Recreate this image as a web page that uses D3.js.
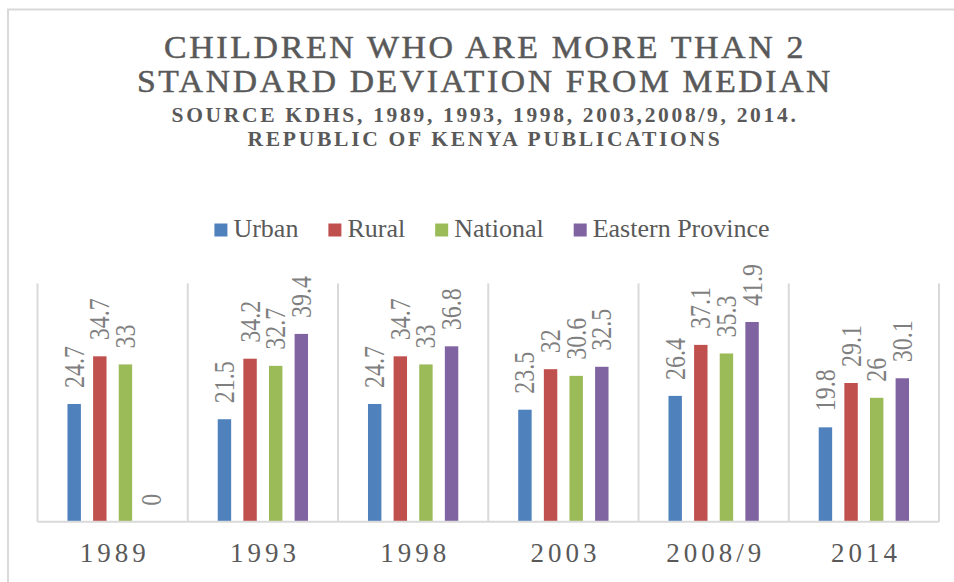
<!DOCTYPE html>
<html>
<head>
<meta charset="utf-8">
<script src="https://cdn.jsdelivr.net/npm/d3@7"></script>
<style>
  html, body { margin: 0; padding: 0; background: #ffffff; }
  svg { display: block; }
</style>
</head>
<body>
<svg id="chart" width="954" height="582"></svg>
<script>
// ---- data ----
const categories = ["1989", "1993", "1998", "2003", "2008/9", "2014"];
const seriesNames = ["Urban", "Rural", "National", "Eastern Province"];
const urban    = [24.7, 21.5, 24.7, 23.5, 26.4, 19.8];
const rural    = [34.7, 34.2, 34.7, 32, 37.1, 29.1];
const national = [33, 32.7, 33, 30.6, 35.3, 26];
const eastern  = [0, 39.4, 36.8, 32.5, 41.9, 30.1];
const seriesValues = [urban, rural, national, eastern];
const seriesColors = ["#4F81BD", "#C0504D", "#9BBB59", "#8064A2"];
const titleLines = ["CHILDREN WHO ARE MORE THAN 2", "STANDARD DEVIATION FROM MEDIAN"];
const subtitleLines = ["SOURCE KDHS, 1989, 1993, 1998, 2003,2008/9, 2014.", "REPUBLIC OF KENYA PUBLICATIONS"];

const FONT = "'Liberation Serif', 'Times New Roman', serif";

const rows = categories.map((c, i) => ({
  cat: c,
  vals: seriesNames.map((s, j) => ({ series: s, value: seriesValues[j][i], color: seriesColors[j] }))
}));

const svg = d3.select("#chart");
const textColor = "#595959";

// chart border
svg.append("rect")
  .attr("x", 8).attr("y", 9.5).attr("width", 960).attr("height", 600)
  .attr("fill", "#ffffff").attr("stroke", "#d9d9d9").attr("stroke-width", 2);

// titles
const titleSpec = [
  { t: titleLines[0], y: 58, size: 32, w: 642, weight: "normal", ls: 2.5 },
  { t: titleLines[1], y: 92, size: 32, w: 696, weight: "normal", ls: 2.5 },
  { t: subtitleLines[0], y: 121.7, size: 20, w: 627, weight: "bold", ls: 2.5 },
  { t: subtitleLines[1], y: 146, size: 20, w: 475, weight: "bold", ls: 2.5 }
];
svg.selectAll("text.title").data(titleSpec).join("text")
  .attr("class", "title")
  .attr("x", 485).attr("y", d => d.y)
  .attr("text-anchor", "middle")
  .style("font-family", FONT)
  .attr("font-size", d => d.size)
  .attr("font-weight", d => d.weight)
  .attr("letter-spacing", d => d.ls)
  .attr("fill", textColor)
  .attr("stroke", d => d.weight === "normal" ? textColor : "none")
  .attr("stroke-width", 0.5)
  .attr("textLength", d => d.w)
  .attr("lengthAdjust", "spacingAndGlyphs")
  .text(d => d.t);

// plot geometry
const plotLeft = 37.5, plotRight = 939, plotTop = 283.4, plotBottom = 521.7;

const x0 = d3.scaleBand().domain(categories).range([plotLeft, plotRight]).padding(0);
const x1 = d3.scaleBand().domain(seriesNames).range([0, x0.bandwidth()])
  .paddingInner(0.476).paddingOuter(1.17);
const y = d3.scaleLinear().domain([0, 50]).range([plotBottom, plotTop]);

// vertical separators
const sepPositions = categories.map(c => x0(c)).concat([x0.range()[1]]);
svg.append("g").selectAll("line").data(sepPositions).join("line")
  .attr("x1", d => d).attr("x2", d => d)
  .attr("y1", plotTop).attr("y2", plotBottom)
  .attr("stroke", "#d9d9d9").attr("stroke-width", 2);

// bars
const groups = svg.append("g").selectAll("g").data(rows).join("g")
  .attr("transform", d => `translate(${x0(d.cat)},0)`);

groups.selectAll("rect").data(d => d.vals).join("rect")
  .attr("x", d => x1(d.series))
  .attr("y", d => y(d.value))
  .attr("width", x1.bandwidth())
  .attr("height", d => y(0) - y(d.value))
  .attr("fill", d => d.color);

// data labels (rotated)
groups.selectAll("text").data(d => d.vals).join("text")
  .attr("transform", d => `translate(${x1(d.series) + x1.bandwidth() / 2},${y(d.value) - 16}) rotate(-90) scale(1,1.2)`)
  .attr("dy", "0.33em")
  .attr("text-anchor", "start")
  .style("font-family", FONT)
  .attr("font-size", 24)
  .attr("fill", "#7f7f7f")
  .text(d => d.value);

// baseline
svg.append("line")
  .attr("x1", plotLeft).attr("x2", plotRight)
  .attr("y1", plotBottom).attr("y2", plotBottom)
  .attr("stroke", "#d9d9d9").attr("stroke-width", 2);

// category axis labels
const xAxis = d3.axisBottom(x0).tickSize(0).tickPadding(0);
const axisG = svg.append("g").attr("transform", `translate(0,${plotBottom})`).call(xAxis);
axisG.select(".domain").remove();
axisG.selectAll("text")
  .attr("y", 40).attr("dy", 0)
  .attr("dx", 2)
  .style("font-family", FONT)
  .style("font-size", "27px")
  .attr("letter-spacing", 4)
  .attr("fill", textColor);

// legend
const legend = svg.append("g");
const items = legend.selectAll("g").data(seriesNames).join("g");
items.append("rect")
  .attr("width", 13).attr("height", 13)
  .attr("y", 223.5)
  .attr("fill", (d, i) => seriesColors[i]);
items.append("text")
  .attr("x", 19).attr("y", 237)
  .style("font-family", FONT)
  .attr("font-size", 26)
  .attr("fill", textColor)
  .text(d => d);
const widths = [];
items.each(function () {
  widths.push(19 + this.querySelector("text").getComputedTextLength());
});
const gap = 30;
const total = d3.sum(widths) + gap * (widths.length - 1);
let start = 492 - total / 2;
items.attr("transform", (d, i) => {
  const tx = start;
  start += widths[i] + gap;
  return `translate(${tx},0)`;
});
</script>
</body>
</html>
